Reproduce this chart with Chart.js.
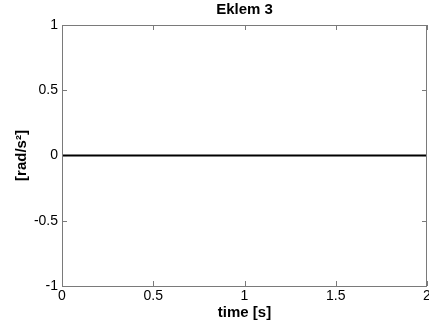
<!DOCTYPE html>
<html>
<head>
<meta charset="utf-8">
<script src="https://cdn.jsdelivr.net/npm/chart.js@4.4.0/dist/chart.umd.min.js"></script>
<style>
  html, body { margin: 0; padding: 0; background: #fff; }
  #wrap { width: 429px; height: 333px; }
</style>
</head>
<body>
<div id="wrap"><canvas id="accChart"></canvas></div>
<script>
// joint 3 angular acceleration over time
const timeS = [0, 0.25, 0.5, 0.75, 1, 1.25, 1.5, 1.75, 2];
const accel = [0, 0, 0, 0, 0, 0, 0, 0, 0];
const xTicks = [0, 0.5, 1, 1.5, 2];
const yTicks = [-1, -0.5, 0, 0.5, 1];

const FONT = 'Arial, "Liberation Sans", sans-serif';
const AXIS = '#7a7a7a';

// box round the plot and inward tick marks on all four sides
const frame = {
  id: 'frame',
  afterDatasetsDraw(chart) {
    const { ctx, chartArea: a, scales: { x, y } } = chart;
    const len = 5;
    ctx.save();
    ctx.strokeStyle = AXIS;
    ctx.lineWidth = 1;
    ctx.beginPath();
    xTicks.forEach(v => {
      const px = Math.round(x.getPixelForValue(v)) + 0.5;
      ctx.moveTo(px, a.bottom); ctx.lineTo(px, a.bottom - len);
      ctx.moveTo(px, a.top); ctx.lineTo(px, a.top + len);
    });
    yTicks.forEach(v => {
      const py = Math.round(y.getPixelForValue(v)) + 0.5;
      ctx.moveTo(a.left, py); ctx.lineTo(a.left + len, py);
      ctx.moveTo(a.right, py); ctx.lineTo(a.right - len, py);
    });
    ctx.stroke();
    ctx.strokeRect(Math.round(a.left) + 0.5, Math.round(a.top) + 0.5,
      Math.round(a.right - a.left) - 1, Math.round(a.bottom - a.top));
    ctx.restore();
  }
};

new Chart(document.getElementById('accChart'), {
  type: 'scatter',
  data: { datasets: [{
    data: timeS.map((t, i) => ({ x: t, y: accel[i] })),
    showLine: true, borderColor: '#000', borderWidth: 2, pointRadius: 0
  }] },
  options: {
    responsive: true, maintainAspectRatio: false, animation: false,
    layout: { padding: { left: 0, right: 2, top: 0, bottom: 0 } },
    plugins: {
      legend: { display: false }, tooltip: { enabled: false },
      title: { display: true, text: 'Eklem 3', fullSize: false, color: '#000',
        font: { family: FONT, size: 15, weight: 'bold' }, padding: { top: 1, bottom: 6 } }
    },
    scales: {
      x: {
        type: 'linear', min: 0, max: 2,
        afterBuildTicks: s => { s.ticks = xTicks.map(v => ({ value: v })); },
        afterFit: s => { s.height = 47; s.paddingLeft = 0; s.paddingRight = 0; },
        grid: { display: false, drawTicks: false, tickLength: 0 },
        border: { display: false },
        ticks: { color: '#000', padding: 2, maxRotation: 0, autoSkip: false,
          callback: v => String(v), font: { family: FONT, size: 14 } },
        title: { display: true, text: 'time [s]', color: '#000',
          font: { family: FONT, size: 15, weight: 'bold' }, padding: { top: 0, bottom: 11 } }
      },
      y: {
        min: -1, max: 1,
        afterBuildTicks: s => { s.ticks = yTicks.map(v => ({ value: v })); },
        afterFit: s => { s.width = 62; s.paddingTop = 0; s.paddingBottom = 0; },
        grid: { display: false, drawTicks: false, tickLength: 0 },
        border: { display: false },
        ticks: { color: '#000', padding: 4, autoSkip: false,
          callback: v => String(v), font: { family: FONT, size: 14 } },
        title: { display: true, text: '[rad/s²]', color: '#000',
          font: { family: FONT, size: 15, weight: 'bold' }, padding: { top: 13, bottom: 0 } }
      }
    }
  },
  plugins: [frame]
});
</script>
</body>
</html>
